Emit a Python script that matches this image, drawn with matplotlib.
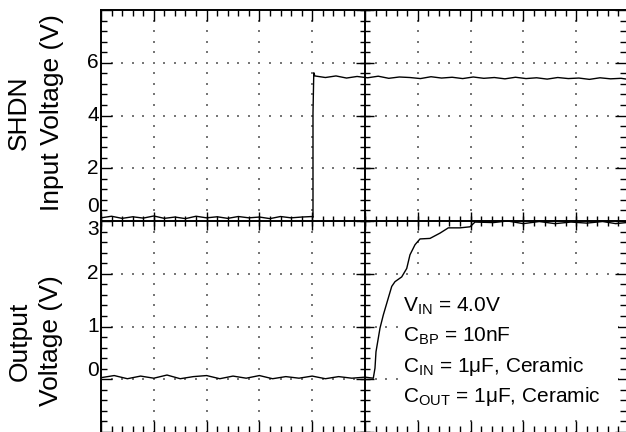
import numpy as np
import matplotlib
matplotlib.use("Agg")
from matplotlib import pyplot as plt
from matplotlib.patches import Rectangle

plt.rcParams['font.family'] = ['Liberation Sans', 'DejaVu Sans']
plt.rcParams['mathtext.fontset'] = 'custom'
plt.rcParams['mathtext.rm'] = 'Liberation Sans'

# scope screen: 10 x 8 divisions, x in divisions (time)
# top trace: SHDN input, 2 V/div, 0 V on the centre line
shdn_t = [0.00, 0.20, 0.40, 0.60, 0.80, 1.00, 1.20, 1.40, 1.60, 1.80, 2.00, 2.20,
          2.40, 2.60, 2.80, 3.00, 3.20, 3.40, 3.60, 3.80, 4.00, 4.015, 4.015, 4.03,
          4.05, 4.25, 4.45, 4.65, 4.85, 5.05, 5.25, 5.45, 5.65, 5.85, 6.05, 6.25,
          6.45, 6.65, 6.85, 7.05, 7.25, 7.45, 7.65, 7.85, 8.05, 8.25, 8.45, 8.65,
          8.85, 9.05, 9.25, 9.45, 9.65, 9.85, 9.95]
shdn_v = [0.12, 0.18, 0.10, 0.16, 0.11, 0.19, 0.10, 0.15, 0.09, 0.18, 0.12, 0.16,
          0.10, 0.17, 0.12, 0.15, 0.09, 0.17, 0.12, 0.15, 0.17, 0.14, 4.10, 5.62,
          5.50, 5.44, 5.50, 5.42, 5.48, 5.43, 5.49, 5.41, 5.46, 5.44, 5.40, 5.47,
          5.42, 5.45, 5.40, 5.46, 5.41, 5.44, 5.39, 5.45, 5.40, 5.43, 5.38, 5.44,
          5.40, 5.42, 5.37, 5.43, 5.39, 5.41, 5.38]

# bottom trace: output voltage, 1 V/div, 0 V one division above the bottom
out_t = [0.00, 0.25, 0.50, 0.75, 1.00, 1.25, 1.50, 1.75, 2.00, 2.25, 2.50, 2.75,
         3.00, 3.25, 3.50, 3.75, 4.00, 4.25, 4.50, 4.75, 5.00, 5.157, 5.189, 5.208,
         5.284, 5.347, 5.441, 5.506, 5.568, 5.695, 5.790, 5.852, 5.947, 6.042,
         6.231, 6.420, 6.578, 6.799, 6.989, 7.083, 7.430, 7.70, 8.00, 8.30, 8.60,
         8.90, 9.20, 9.50, 9.75, 9.95]
out_v = [0.03, 0.07, 0.01, 0.06, 0.02, 0.08, 0.01, 0.05, 0.07, 0.01, 0.06, 0.02,
         0.07, 0.01, 0.05, 0.02, 0.06, 0.01, 0.05, 0.02, 0.04, 0.02, 0.21, 0.52,
         0.97, 1.22, 1.54, 1.76, 1.85, 1.94, 2.10, 2.36, 2.55, 2.66,
         2.67, 2.77, 2.87, 2.87, 2.89, 2.98, 2.97, 3.00, 2.95, 2.99, 2.95,
         2.98, 2.96, 2.99, 2.95, 2.97]

shdn_ticks = [6, 4, 2, 0]
out_ticks = [3, 2, 1, 0]
notes = ["$\\mathregular{V_{IN}}$ = 4.0V",
         "$\\mathregular{C_{BP}}$ = 10nF",
         "$\\mathregular{C_{IN}}$ = 1\u03bcF, Ceramic",
         "$\\mathregular{C_{OUT}}$ = 1\u03bcF, Ceramic"]

fig = plt.figure(figsize=(6.26, 4.32), dpi=100)
ax = fig.add_axes([101 / 626, 0.0, 525 / 626, 422 / 432])
ax.set_xlim(0, 9.943)
ax.set_ylim(0, 8)

for s in ['right', 'bottom']:
    ax.spines[s].set_visible(False)
for s in ['left', 'top']:
    ax.spines[s].set_linewidth(1.4)

ax.set_xticks(np.arange(0, 10))
ax.set_yticks(np.arange(0, 9))
ax.set_xticks(np.arange(0, 10, 0.2), minor=True)
ax.set_yticks(np.arange(0, 8.01, 0.2), minor=True)
ax.tick_params(which='both', direction='in', top=True, right=True, bottom=True, left=True,
               labelbottom=False, labelleft=False, width=1.0, color='black')
ax.tick_params(which='major', length=8)
ax.tick_params(which='minor', length=4)

# dotted graticule
for gx in [1, 2, 3, 4, 6, 7, 8, 9]:
    ys = np.arange(0, 8.01, 0.2)
    ax.scatter(np.full(len(ys), gx), ys, s=0.9, marker='s', color='#777777', lw=0, zorder=1)
for gy in [1, 2, 3, 5, 6, 7]:
    xs = np.arange(0, 10, 0.2)
    ax.scatter(xs, np.full(len(xs), gy), s=0.9, marker='s', color='#777777', lw=0, zorder=1)

# centre cross with ticks
ax.axvline(5, color='black', lw=1.4)
ax.axhline(4, color='black', lw=1.4)
yy = np.arange(0, 8.01, 0.2)
ax.plot(np.full(len(yy), 5), yy, ls='none', marker='_', ms=6.5, mew=1.0, color='black')
ax.plot(np.full(9, 5), np.arange(0, 9), ls='none', marker='_', ms=13, mew=1.0, color='black')
xx = np.arange(0, 10, 0.2)
ax.plot(xx, np.full(len(xx), 4), ls='none', marker='|', ms=6.5, mew=1.0, color='black')
ax.plot(np.arange(0, 10), np.full(10, 4), ls='none', marker='|', ms=13, mew=1.0, color='black')

# traces
ax.plot(shdn_t, 4 + np.array(shdn_v) / 2, color='black', lw=1.0)
ax.plot(out_t, 1 + np.array(out_v), color='black', lw=1.0)

# tick labels (the two "0"s and the "3" are nudged off the centre line)
shdn_nudge = [0, 0, 0, 0.27]
out_nudge = [-0.16, 0, 0, 0.17]
for v, n in zip(shdn_ticks, shdn_nudge):
    ax.text(-0.04, 4 + v / 2 + n, str(v), ha='right', va='center', fontsize=15)
for v, n in zip(out_ticks, out_nudge):
    ax.text(-0.04, 1 + v + n, str(v), ha='right', va='center', fontsize=15)

fig.text(19 / 626, 1 - 113 / 432, "SHDN", rotation=90, ha='center', va='center', fontsize=19)
fig.text(52 / 626, 1 - 113 / 432, "Input Voltage (V)", rotation=90, ha='center', va='center', fontsize=19)
fig.text(20 / 626, 1 - 341 / 432, "Output", rotation=90, ha='center', va='center', fontsize=19)
fig.text(51 / 626, 1 - 341 / 432, "Voltage (V)", rotation=90, ha='center', va='center', fontsize=19)

# white panel behind the test conditions
ax.add_patch(Rectangle((5.66, 0.28), 4.14, 2.6, facecolor='white', edgecolor='none', zorder=2))
note_y = [2.29, 1.71, 1.14, 0.57]
for s, y in zip(notes, note_y):
    ax.text(5.72, y, s, ha='left', va='baseline', fontsize=15, zorder=3)

fig.savefig("out.png", dpi=100)
